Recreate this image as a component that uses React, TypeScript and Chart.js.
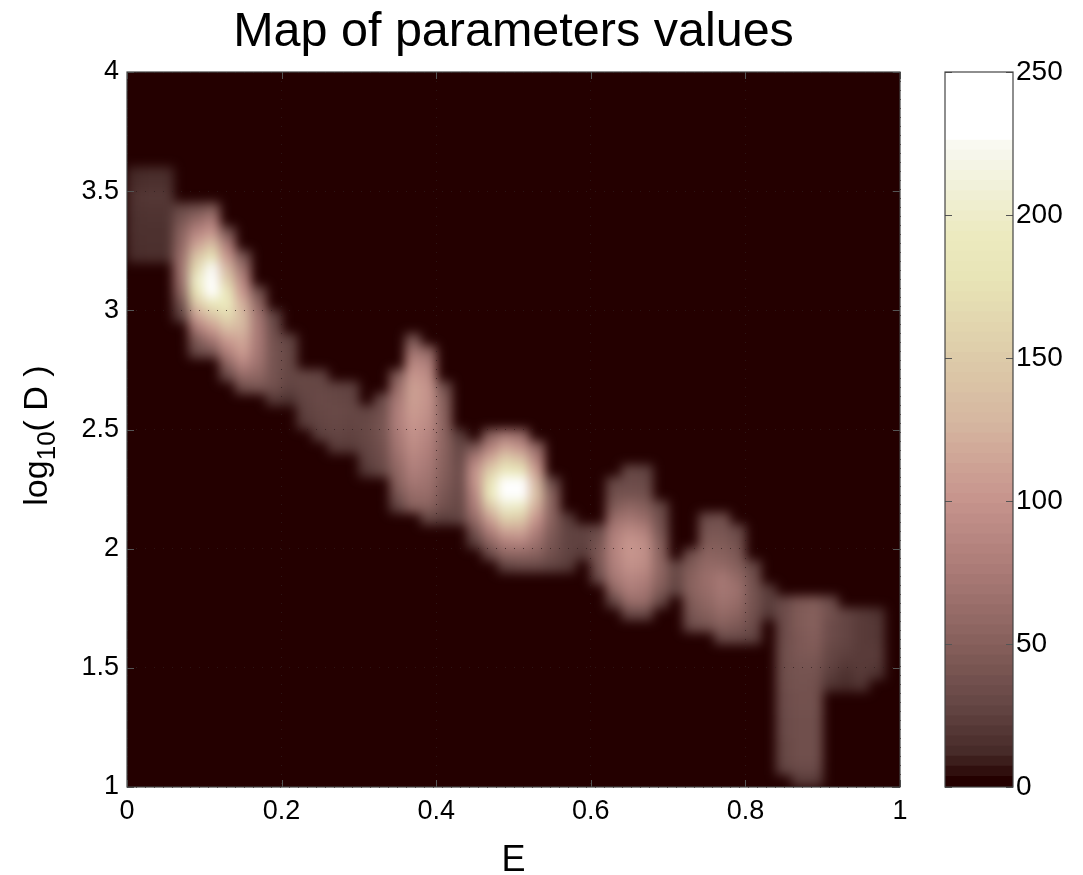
import React, { useEffect, useRef } from "react";
import { Chart, registerables } from "chart.js";

Chart.register(...registerables);

const chartTitle = "Map of parameters values";
const xAxisTitle = "E";
const xTicks = [0, 0.2, 0.4, 0.6, 0.8, 1];
const yTicks = [1, 1.5, 2, 2.5, 3, 3.5, 4];
const colorbarTicks = [0, 50, 100, 150, 200, 250];

// Column centres in E and lower edge of the rows in log10(D)
const columnCentres = [
  0.01, 0.03, 0.05, 0.07, 0.09, 0.11, 0.13, 0.15, 0.17, 0.19, 0.21, 0.23, 0.25, 0.27, 0.29, 0.31, 0.33,
  0.35, 0.37, 0.39, 0.41, 0.43, 0.45, 0.47, 0.49, 0.51, 0.53, 0.55, 0.57, 0.59, 0.61, 0.63, 0.65, 0.67,
  0.69, 0.71, 0.73, 0.75, 0.77, 0.79, 0.81, 0.83, 0.85, 0.87, 0.89, 0.91, 0.93, 0.95, 0.97, 0.99,
];
const rowHeight = 0.05;

// First row of each column's non-zero run (row r spans 1 + r*0.05 .. 1 + (r+1)*0.05)
const heatStartRow = [
  44, 44, 44, 39, 36, 36, 34, 33, 33, 32, 32, 30, 29, 28, 28, 26, 26, 23, 23, 22, 22, 22, 20, 19, 18,
  18, 18, 18, 18, 19, 17, 15, 14, 14, 15, 16, 13, 13, 12, 12, 12, 14, 1, 0, 0, 8, 8, 8, 9, 0,
];
// Readings per column, from the start row upwards
const heatColumns = [
  [12, 13, 14, 14, 15, 16, 12, 10],
  [13, 14, 14, 15, 16, 18, 14, 12],
  [13, 14, 14, 15, 16, 18, 14, 12],
  [22, 35, 52, 62, 66, 62, 55, 50, 40, 28],
  [30, 45, 75, 110, 145, 175, 195, 165, 140, 110, 85, 60, 35],
  [40, 70, 105, 140, 180, 240, 250, 225, 175, 135, 100, 75, 45],
  [30, 55, 80, 105, 135, 165, 190, 180, 150, 125, 100, 75, 40],
  [35, 60, 85, 105, 115, 125, 130, 120, 100, 85, 65, 40],
  [40, 55, 65, 70, 72, 72, 68, 55, 35],
  [20, 35, 38, 38, 38, 36, 32, 25],
  [15, 25, 28, 28, 28, 25],
  [20, 24, 26, 28, 28],
  [22, 26, 28, 30, 28, 26],
  [20, 26, 28, 30, 28, 26],
  [20, 24, 26, 28, 26, 24],
  [18, 24, 26, 28, 28, 26],
  [28, 32, 35, 38, 38, 35, 30],
  [25, 40, 50, 55, 62, 68, 72, 78, 78, 72, 62, 45],
  [50, 60, 70, 78, 84, 90, 95, 100, 105, 108, 108, 100, 88, 68, 40],
  [28, 50, 60, 65, 70, 75, 80, 85, 90, 95, 98, 98, 90, 78, 55],
  [22, 35, 40, 45, 48, 50, 52, 52, 52, 50, 48, 35],
  [25, 28, 30, 32, 32, 30, 28, 20],
  [22, 40, 60, 75, 85, 95, 95, 75, 40],
  [30, 55, 80, 110, 145, 185, 175, 150, 115, 80, 50],
  [25, 55, 80, 115, 155, 200, 250, 235, 190, 150, 110, 70],
  [30, 55, 85, 115, 150, 195, 245, 230, 180, 135, 95, 60],
  [30, 50, 65, 80, 100, 120, 135, 125, 105, 80, 55],
  [25, 35, 40, 45, 50, 50, 48, 30],
  [20, 25, 25, 25, 20],
  [20, 24, 24],
  [30, 40, 42, 38, 30],
  [25, 55, 70, 78, 82, 82, 75, 62, 45, 35, 28],
  [30, 60, 75, 85, 95, 100, 100, 88, 70, 55, 38, 32, 28],
  [30, 60, 70, 80, 90, 95, 92, 80, 62, 48, 36, 30, 25],
  [28, 45, 52, 55, 52, 48, 40, 35, 28],
  [25, 28, 28],
  [32, 40, 45, 50, 50, 45, 35],
  [38, 48, 55, 60, 62, 58, 52, 45, 40, 32],
  [30, 48, 58, 66, 70, 70, 58, 50, 45, 40, 35],
  [30, 42, 52, 60, 64, 58, 48, 42, 36, 30],
  [25, 32, 36, 38, 38, 36, 28],
  [18, 22, 20],
  [25, 28, 28, 30, 30, 32, 32, 34, 34, 34, 34, 32, 32, 32, 30],
  [20, 30, 34, 34, 34, 34, 36, 36, 38, 38, 40, 42, 42, 44, 44, 42],
  [20, 30, 34, 34, 34, 34, 36, 36, 36, 38, 40, 44, 46, 48, 48, 45],
  [16, 22, 26, 28, 32, 32, 36, 32],
  [12, 15, 20, 24, 26, 26, 26],
  [16, 20, 20, 20, 20, 20, 20],
  [15, 20, 20, 18, 18, 16],
  [],
];

// Colour map
const stopValues = [0, 10, 25, 50, 75, 100, 115, 125, 150, 175, 190, 200, 215, 225, 226];
const stopColours = [
  [36, 0, 0], [70, 42, 40], [98, 68, 66], [137, 98, 94], [172, 124, 120], [200, 150, 142],
  [208, 168, 152], [213, 182, 160], [222, 205, 170], [232, 228, 182], [236, 234, 190],
  [238, 237, 205], [244, 244, 228], [250, 250, 245], [255, 255, 255],
];
// Lower edge of each band of the colour bar (the last one runs to the axis top)
const colorbarEdges = [
  0, 3.5, 7.1, 10.6, 14.1, 17.7, 21.2, 24.7, 28.2, 31.8, 35.3, 38.8, 42.4, 45.9, 49.4, 53, 56.5, 60, 63.6,
  67.1, 70.6, 74.2, 77.7, 81.2, 84.7, 88.3, 91.8, 95.3, 98.9, 102.4, 105.9, 109.5, 113, 116.5, 120.1, 123.6,
  127.1, 130.7, 134.2, 137.7, 141.2, 144.8, 148.3, 151.8, 155.4, 158.9, 162.4, 166, 169.5, 173, 176.6,
  180.1, 183.6, 187.2, 190.7, 194.2, 197.7, 201.3, 204.8, 208.3, 211.9, 215.4, 218.9, 222.5, 226, 250,
];

const FONT = "'Liberation Sans', Arial, Helvetica, sans-serif";
const BG = "#240000";

function colourFor(v: number): string {
  let k = 0;
  while (k < stopValues.length - 2 && v > stopValues[k + 1]) k++;
  const a = stopValues[k];
  const b = stopValues[k + 1];
  const t = Math.max(0, Math.min(1, (v - a) / (b - a)));
  const c = stopColours[k].map((p, i) => Math.round(p + (stopColours[k + 1][i] - p) * t));
  return `rgb(${c[0]},${c[1]},${c[2]})`;
}

function frameAndTicks(axisIds: string[]) {
  return {
    id: "frameAndTicks",
    afterDraw(chart: any) {
      const { ctx, chartArea: a } = chart;
      ctx.save();
      ctx.lineWidth = 1;
      ctx.strokeStyle = "#555";
      ctx.beginPath();
      for (const id of axisIds) {
        const s = chart.scales[id];
        for (const t of s.ticks) {
          const p = Math.round(s.getPixelForValue(t.value)) + 0.5;
          if (s.isHorizontal()) {
            ctx.moveTo(p, a.bottom); ctx.lineTo(p, a.bottom - 7);
            ctx.moveTo(p, a.top); ctx.lineTo(p, a.top + 7);
          } else {
            ctx.moveTo(a.left, p); ctx.lineTo(a.left + 7, p);
            ctx.moveTo(a.right, p); ctx.lineTo(a.right - 7, p);
          }
        }
      }
      ctx.stroke();
      ctx.strokeStyle = "#444";
      ctx.lineWidth = 1.2;
      ctx.strokeRect(a.left, a.top, a.right - a.left, a.bottom - a.top);
      ctx.restore();
    },
  };
}

const yAxisTitle = {
  id: "yAxisTitle",
  afterDraw(chart: any) {
    const { ctx, chartArea: a } = chart;
    ctx.save();
    ctx.translate(47, (a.top + a.bottom) / 2 + 6);
    ctx.rotate(-Math.PI / 2);
    ctx.fillStyle = "#000";
    ctx.textBaseline = "alphabetic";
    const big = `34px ${FONT}`;
    const small = `26px ${FONT}`;
    const parts: [string, string, number][] = [["log", big, 0], ["10", small, 8], ["( D )", big, 0]];
    let total = 0;
    for (const [s, f] of parts) { ctx.font = f; total += ctx.measureText(s).width; }
    let x = -total / 2;
    for (const [s, f, dy] of parts) {
      ctx.font = f;
      ctx.fillText(s, x, dy);
      x += ctx.measureText(s).width;
    }
    ctx.restore();
  },
};

export default function App() {
  const heatRef = useRef<HTMLCanvasElement>(null);
  const axesRef = useRef<HTMLCanvasElement>(null);
  const barRef = useRef<HTMLCanvasElement>(null);

  useEffect(() => {
    const rowCount = 60;
    const heatDatasets = [] as any[];
    for (let r = 0; r < rowCount; r++) {
      const low = 1 + r * rowHeight;
      const data: any[] = [];
      const colours: string[] = [];
      heatColumns.forEach((col, i) => {
        const v = col[r - heatStartRow[i]];
        if (v === undefined) {
          data.push(null);
          colours.push(BG);
        } else {
          data.push([low, low + rowHeight * 1.04]);
          colours.push(colourFor(v));
        }
      });
      heatDatasets.push({ data, backgroundColor: colours, barPercentage: 1.04, categoryPercentage: 1, grouped: false });
    }
    const heat = new Chart(heatRef.current!, {
      type: "bar",
      data: { labels: columnCentres, datasets: heatDatasets },
      options: {
        animation: false,
        responsive: false,
        events: [],
        layout: { padding: 0 },
        plugins: { legend: { display: false }, title: { display: false }, tooltip: { enabled: false } },
        scales: {
          x: { display: false },
          y: { display: false, min: 1, max: 4 },
        },
      },
    } as any);

    const axes = new Chart(axesRef.current!, {
      type: "scatter",
      data: { datasets: [{ data: [], showLine: false }] },
      options: {
        animation: false,
        responsive: false,
        events: [],
        layout: { padding: { left: 20, right: 183, top: 0, bottom: 0 } },
        plugins: {
          legend: { display: false },
          tooltip: { enabled: false },
          title: {
            display: true,
            text: chartTitle,
            fullSize: false,
            color: "#000",
            font: { family: FONT, size: 48.5, weight: "normal", lineHeight: 1 },
            padding: { top: 8.5, bottom: 15 },
          },
        },
        scales: {
          x: {
            type: "linear",
            min: 0,
            max: 1,
            afterBuildTicks: (s: any) => { s.ticks = xTicks.map((value) => ({ value })); },
            afterFit: (s: any) => { s.height = 88; },
            grid: { color: "rgba(48,30,30,0.75)", lineWidth: 1, drawTicks: false, tickLength: 0 },
            border: { display: false, dash: [1, 8] },
            ticks: {
              color: "#000",
              font: { family: FONT, size: 27 },
              padding: 8,
              maxRotation: 0,
              autoSkip: false,
              callback: (v: any) => String(v),
            },
            title: {
              display: true,
              text: xAxisTitle,
              color: "#000",
              font: { family: FONT, size: 36, lineHeight: 0.78 },
              padding: { top: 4, bottom: 0 },
            },
          },
          y: {
            type: "linear",
            min: 1,
            max: 4,
            afterBuildTicks: (s: any) => { s.ticks = yTicks.map((value) => ({ value })); },
            afterFit: (s: any) => { s.width = 107; },
            grid: { color: "rgba(48,30,30,0.75)", lineWidth: 1, drawTicks: false, tickLength: 0 },
            border: { display: false, dash: [1, 8] },
            ticks: {
              color: "#000",
              font: { family: FONT, size: 27 },
              padding: 8,
              autoSkip: false,
              callback: (v: any) => String(v),
            },
          },
        },
      },
      plugins: [frameAndTicks(["x", "y"]), yAxisTitle],
    } as any);

    const bands = colorbarEdges.slice(0, -1);
    const bar = new Chart(barRef.current!, {
      type: "bar",
      data: {
        labels: ["scale"],
        datasets: bands.map((low, i) => ({
          data: [[low, colorbarEdges[i + 1] + 0.2]],
          backgroundColor: colourFor(low),
          barPercentage: 1,
          categoryPercentage: 1,
          grouped: false,
        })),
      },
      options: {
        animation: false,
        responsive: false,
        events: [],
        layout: { padding: { left: 15, top: 72, bottom: 875 - 787, right: 0 } },
        plugins: { legend: { display: false }, title: { display: false }, tooltip: { enabled: false } },
        scales: {
          x: { display: false },
          y: {
            position: "right",
            min: 0,
            max: 250,
            afterBuildTicks: (s: any) => { s.ticks = colorbarTicks.map((value) => ({ value })); },
            afterFit: (s: any) => { s.width = 70; },
            grid: { display: false, drawTicks: false, tickLength: 0 },
            border: { display: false },
            ticks: { color: "#000", font: { family: FONT, size: 28 }, padding: 3, autoSkip: false },
          },
        },
      },
      plugins: [frameAndTicks(["y"])],
    } as any);

    return () => {
      heat.destroy();
      axes.destroy();
      bar.destroy();
    };
  }, []);

  return (
    <div style={{ position: "absolute", left: 0, top: 0, width: 1083, height: 875, overflow: "hidden", background: "#fff" }}>
      <div style={{ position: "absolute", left: 127, top: 72, width: 773, height: 715, overflow: "hidden", background: BG }}>
        <canvas ref={heatRef} width={773} height={715} style={{ display: "block", filter: "blur(5.5px)" }} />
      </div>
      <canvas ref={axesRef} width={1083} height={875} style={{ position: "absolute", left: 0, top: 0 }} />
      <canvas ref={barRef} width={153} height={875} style={{ position: "absolute", left: 930, top: 0 }} />
    </div>
  );
}
